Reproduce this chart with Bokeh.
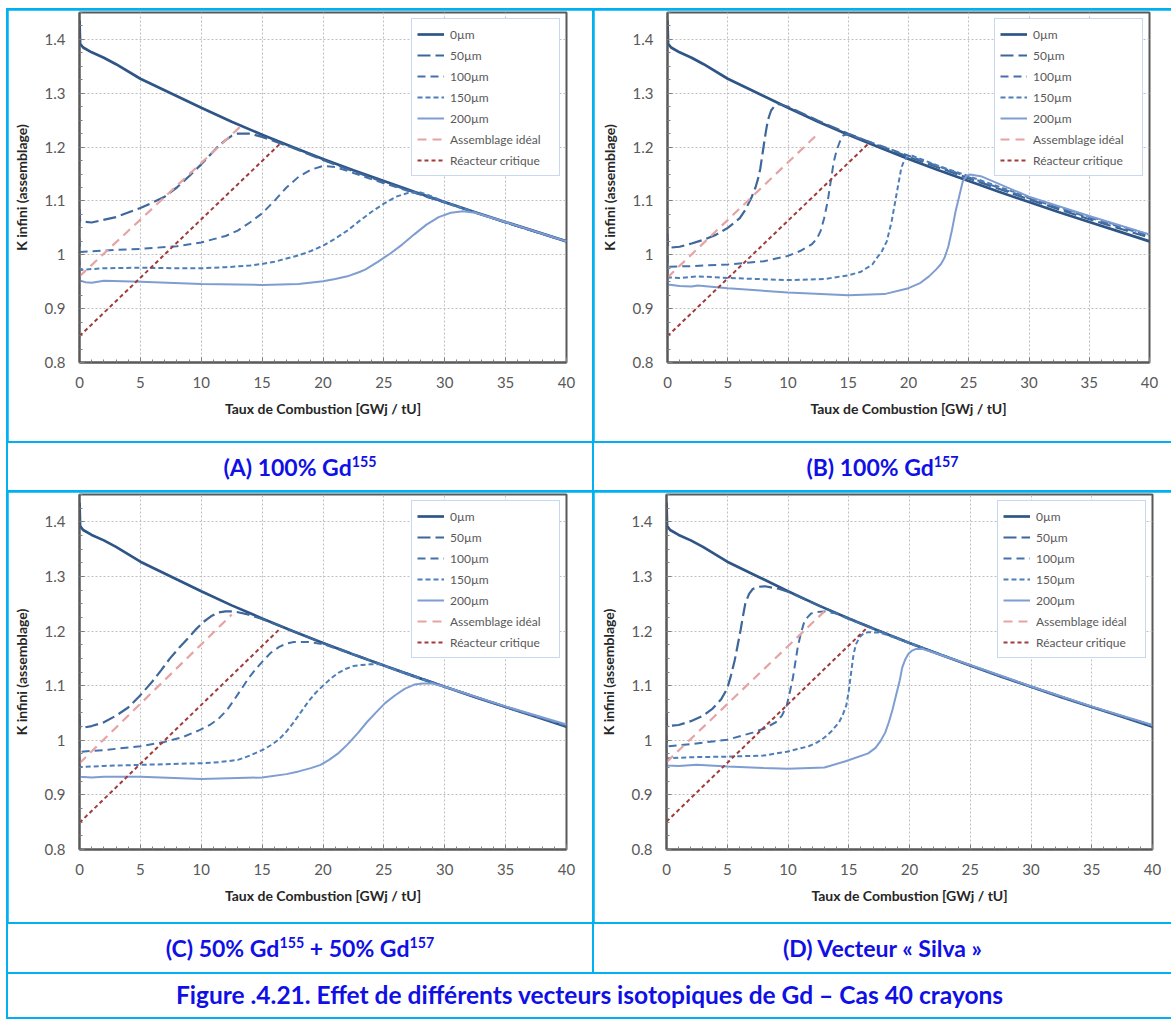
import numpy as np
from bokeh.plotting import figure
from bokeh.models import FixedTicker, Div
from bokeh.layouts import column, row
from bokeh.embed import file_html
from bokeh.resources import INLINE

# ---------------- data ----------------
series_labels = ["0µm", "50µm", "100µm", "150µm", "200µm", "Assemblage idéal", "Réacteur critique"]
x_ticks = [0, 5, 10, 15, 20, 25, 30, 35, 40]
y_ticks = [0.8, 0.9, 1.0, 1.1, 1.2, 1.3, 1.4]
y_tick_labels = ["0.8", "0.9", "1", "1.1", "1.2", "1.3", "1.4"]

# 0 µm reference curve (same in every panel)
ref_x = [0, 0.05, 0.3, 1, 2, 3, 5, 7.5, 10, 12.5, 15, 17.5, 20, 22.5, 25, 27.5, 30, 32.5, 35, 37.5, 40]
ref_k = [1.435, 1.392, 1.385, 1.376, 1.366, 1.354, 1.327, 1.300, 1.273, 1.247, 1.223, 1.200, 1.178, 1.157,
         1.137, 1.117, 1.098, 1.079, 1.061, 1.043, 1.025]

# (A) 100% Gd155
A_x_50 = [0, 0.05, 1, 3, 5, 6, 7, 8, 9, 10, 11, 11.5, 12, 12.5, 13, 14, 15, 17.5, 20, 22.5, 25, 27.5, 30, 35, 40]
A_k_50 = [1.085, 1.062, 1.06, 1.07, 1.087, 1.097, 1.108, 1.125, 1.146, 1.168, 1.192, 1.204, 1.213, 1.221,
          1.225, 1.225, 1.219, 1.199, 1.176, 1.155, 1.135, 1.116, 1.097, 1.06, 1.025]
A_x_100 = [0, 0.05, 2, 5, 8, 10, 12, 13, 14, 15, 16, 17, 18, 19, 20, 21, 22, 23, 25, 27.5, 30, 35, 40]
A_k_100 = [1.03, 1.005, 1.008, 1.011, 1.016, 1.023, 1.035, 1.045, 1.06, 1.077, 1.1, 1.125, 1.145, 1.158,
           1.165, 1.163, 1.156, 1.148, 1.133, 1.115, 1.097, 1.06, 1.025]
A_x_150 = [0, 0.05, 2, 5, 8, 10, 12, 14, 15, 16, 17, 18, 19, 20, 21, 22, 23, 24, 25, 26, 27, 28, 29, 30, 35, 40]
A_k_150 = [0.99, 0.972, 0.975, 0.976, 0.975, 0.975, 0.977, 0.98, 0.983, 0.987, 0.993, 0.999, 1.007, 1.017,
           1.03, 1.045, 1.063, 1.08, 1.095, 1.108, 1.115, 1.116, 1.108, 1.098, 1.06, 1.025]
A_x_200 = [0, 0.05, 0.5, 1, 2, 5, 10, 15, 18, 20, 21, 22, 23, 23.5, 24.5, 25.5, 26.5, 27.5, 28.5, 29.5, 30.5,
           31.5, 32.5, 33.5, 35, 40]
A_k_200 = [0.975, 0.952, 0.949, 0.948, 0.952, 0.95, 0.946, 0.944, 0.946, 0.951, 0.955, 0.96, 0.968, 0.973,
           0.987, 1.002, 1.019, 1.038, 1.056, 1.07, 1.078, 1.081, 1.078, 1.071, 1.061, 1.025]
A_x_ideal = [0, 13.2]
A_k_ideal = [0.96, 1.238]
A_x_crit = [0, 16.6]
A_k_crit = [0.849, 1.209]

# (B) 100% Gd157
B_x_50 = [0, 0.05, 1, 2, 3, 4, 5, 6, 6.5, 7, 7.3, 7.5, 7.7, 7.9, 8.1, 8.25, 8.4, 8.6, 8.9, 9.2, 10, 12.5, 15,
          17.5, 20, 25, 30, 35, 40]
B_k_50 = [1.04, 1.013, 1.015, 1.021, 1.028, 1.037, 1.05, 1.068, 1.085, 1.108, 1.125, 1.14, 1.16, 1.19, 1.22,
          1.24, 1.255, 1.268, 1.277, 1.28, 1.275, 1.249, 1.225, 1.203, 1.182, 1.142, 1.103, 1.066, 1.032]
B_x_100 = [0, 0.05, 2, 5, 8, 10, 11, 12, 12.4, 12.7, 13, 13.3, 13.55, 13.8, 14.05, 14.3, 14.6, 15, 17.5, 20, 25,
           30, 35, 40]
B_k_100 = [1.0, 0.978, 0.979, 0.982, 0.988, 0.998, 1.007, 1.02, 1.03, 1.044, 1.068, 1.1, 1.137, 1.173, 1.195,
           1.21, 1.222, 1.224, 1.204, 1.184, 1.144, 1.105, 1.069, 1.035]
B_x_150 = [0, 0.05, 1, 2.5, 5, 10, 13, 15, 16, 17, 17.4, 17.8, 18.2, 18.6, 18.85, 19.1, 19.4, 19.6, 19.8, 20.3,
           22.5, 25, 30, 35, 40]
B_k_150 = [0.975, 0.958, 0.957, 0.96, 0.957, 0.953, 0.955, 0.962, 0.968, 0.982, 0.995, 1.007, 1.025, 1.062,
           1.093, 1.124, 1.161, 1.173, 1.18, 1.184, 1.165, 1.146, 1.107, 1.071, 1.037]
B_x_200 = [0, 0.05, 1, 2, 2.5, 5, 10, 15, 18, 20, 21, 21.7, 22.3, 22.7, 23.0, 23.3, 23.6, 23.9, 24.2, 24.5,
           24.8, 25.1, 26, 30, 35, 40]
B_k_200 = [0.96, 0.945, 0.942, 0.941, 0.943, 0.938, 0.93, 0.925, 0.927, 0.938, 0.948, 0.96, 0.973, 0.983,
           0.995, 1.015, 1.045, 1.08, 1.108, 1.136, 1.146, 1.149, 1.146, 1.108, 1.072, 1.038]
B_x_ideal = [0, 12.5]
B_k_ideal = [0.958, 1.225]
B_x_crit = [0, 16.7]
B_k_crit = [0.849, 1.207]

# (C) 50% Gd155 + 50% Gd157
C_x_50 = [0, 0.05, 1, 2, 3, 4, 4.9, 6, 6.7, 7.4, 8.2, 9, 9.6, 10.2, 10.8, 11.4, 12, 12.7, 13.3, 13.9, 15,
          17.5, 20, 25, 30, 35, 40]
C_k_50 = [1.045, 1.022, 1.026, 1.033, 1.045, 1.06, 1.08, 1.108, 1.128, 1.149, 1.17, 1.189, 1.204, 1.217,
          1.227, 1.234, 1.236, 1.236, 1.233, 1.23, 1.222, 1.2, 1.178, 1.137, 1.098, 1.061, 1.027]
C_x_100 = [0, 0.05, 2, 5, 7, 8.5, 9.9, 10.7, 11.4, 12.1, 12.7, 13.3, 13.9, 14.5, 15.1, 15.7, 16.4, 17, 17.6,
           18.8, 20, 22.5, 25, 30, 35, 40]
C_k_100 = [1.0, 0.979, 0.982, 0.989, 0.997, 1.006, 1.019, 1.028, 1.039, 1.055, 1.074, 1.094, 1.114, 1.131,
           1.146, 1.16, 1.171, 1.177, 1.18, 1.18, 1.176, 1.157, 1.137, 1.098, 1.061, 1.027]
C_x_150 = [0, 0.05, 2, 5, 10, 11.5, 13, 14, 15.1, 15.8, 16.4, 17, 17.6, 18.2, 18.8, 19.4, 20.1, 20.7, 21.3,
           21.9, 22.5, 23.2, 23.8, 24.7, 26, 30, 35, 40]
C_k_150 = [0.97, 0.951, 0.953, 0.955, 0.958, 0.96, 0.964, 0.972, 0.983, 0.992, 1.002, 1.016, 1.033, 1.052,
           1.071, 1.087, 1.102, 1.114, 1.124, 1.131, 1.136, 1.138, 1.139, 1.139, 1.128, 1.098, 1.061, 1.027]
C_x_200 = [0, 0.05, 1, 2, 5, 10, 15, 17, 18, 19, 19.8, 20.5, 21.3, 22, 22.9, 23.6, 24.4, 25.1, 25.9, 26.7,
           27.5, 28.2, 29, 30, 35, 40]
C_k_200 = [0.95, 0.933, 0.932, 0.933, 0.933, 0.929, 0.932, 0.938, 0.943, 0.949, 0.955, 0.964, 0.977, 0.992,
           1.014, 1.033, 1.052, 1.068, 1.082, 1.094, 1.102, 1.104, 1.104, 1.098, 1.062, 1.029]
C_x_ideal = [0, 12.5]
C_k_ideal = [0.958, 1.23]
C_x_crit = [0, 16.5]
C_k_crit = [0.849, 1.205]

# (D) Vecteur « Silva »
D_x_50 = [0, 0.05, 1, 2, 3, 3.8, 4.5, 5, 5.3, 5.6, 5.85, 6.1, 6.3, 6.5, 6.8, 7.1, 7.6, 8.1, 9.3, 10, 12.5, 15,
          20, 25, 30, 35, 40]
D_k_50 = [1.05, 1.026, 1.028, 1.035, 1.045, 1.058, 1.075, 1.095, 1.118, 1.145, 1.173, 1.202, 1.228, 1.252,
          1.268, 1.277, 1.281, 1.282, 1.277, 1.272, 1.247, 1.223, 1.178, 1.137, 1.098, 1.061, 1.027]
D_x_100 = [0, 0.05, 2, 5, 7.1, 8, 9, 9.5, 9.9, 10.15, 10.4, 10.6, 10.8, 11.05, 11.3, 11.6, 11.9, 12.4, 13, 14,
           15, 17.5, 20, 25, 30, 35, 40]
D_k_100 = [1.01, 0.989, 0.993, 1.001, 1.014, 1.021, 1.033, 1.045, 1.064, 1.088, 1.114, 1.142, 1.17, 1.195,
           1.214, 1.225, 1.232, 1.235, 1.236, 1.232, 1.222, 1.2, 1.178, 1.137, 1.098, 1.061, 1.027]
D_x_150 = [0, 0.05, 2, 5, 8, 9.9, 11.7, 12.4, 13, 13.6, 14.2, 14.5, 14.8, 15.0, 15.1, 15.25, 15.4, 15.6, 15.9,
           16.2, 16.6, 17.6, 20, 25, 30, 35, 40]
D_k_150 = [0.985, 0.967, 0.969, 0.97, 0.972, 0.979, 0.989, 0.996, 1.005, 1.017, 1.033, 1.046, 1.064, 1.09,
           1.108, 1.133, 1.158, 1.176, 1.189, 1.195, 1.198, 1.197, 1.178, 1.137, 1.098, 1.061, 1.027]
D_x_200 = [0, 0.05, 1, 2.5, 5, 8, 10, 13, 14.8, 16.6, 17.2, 17.6, 18, 18.3, 18.6, 18.9, 19.2, 19.4, 19.65,
           19.9, 20.2, 20.5, 21.1, 25, 30, 35, 40]
D_k_200 = [0.975, 0.954, 0.953, 0.955, 0.952, 0.949, 0.948, 0.95, 0.962, 0.976, 0.986, 0.998, 1.014, 1.033,
           1.056, 1.083, 1.11, 1.133, 1.148, 1.158, 1.164, 1.167, 1.167, 1.138, 1.099, 1.062, 1.028]
D_x_ideal = [0, 13.0]
D_k_ideal = [0.96, 1.236]
D_x_crit = [0, 16.6]
D_k_crit = [0.851, 1.208]

SUP = '<sup style="font-size:0.62em">'
captions = [f"(A) 100% Gd{SUP}155</sup>", f"(B) 100% Gd{SUP}157</sup>",
            f"(C) 50% Gd{SUP}155</sup> + 50% Gd{SUP}157</sup>", "(D) Vecteur « Silva »"]
figure_caption = "Figure .4.21. Effet de différents vecteurs isotopiques de Gd – Cas 40 crayons"
x_title = "Taux de Combustion [GWj / tU]"
y_title = "K infini (assemblage)"

# ---------------- styles ----------------
STYLES = {
    "0µm": dict(color="#2F5587", dash="solid", width=2.7),
    "50µm": dict(color="#3D6699", dash="13 5", width=2.2),
    "100µm": dict(color="#4471A9", dash="8 5", width=2.0),
    "150µm": dict(color="#4E7EB9", dash="5 3", width=2.0),
    "200µm": dict(color="#7F9DD0", dash="solid", width=2.0),
    "Assemblage idéal": dict(color="#E6A3A3", dash="9 6", width=2.2),
    "Réacteur critique": dict(color="#A13A3A", dash="4 3", width=2.0),
}
FONT = "Lato"
CYAN = "#00B0F0"
BLUE = "#1010E6"


def make_panel(data, width, height, mb_left, mb_right, mb_top, mb_bottom):
    p = figure(width=width, height=height, x_range=(0, 40), y_range=(0.8, 1.45),
               output_backend="svg", toolbar_location=None,
               min_border_left=mb_left, min_border_right=mb_right,
               min_border_top=mb_top, min_border_bottom=mb_bottom,
               background_fill_color="white", border_fill_color="white",
               outline_line_color="#595959", outline_line_width=2)
    for label, (xs, ks) in zip(series_labels, data):
        st = STYLES[label]
        p.line(xs, ks, line_color=st["color"], line_dash=st["dash"], line_width=st["width"],
               legend_label=label)
    p.xaxis.ticker = FixedTicker(ticks=x_ticks, minor_ticks=list(np.arange(0, 41, 1)))
    p.yaxis.ticker = FixedTicker(ticks=y_ticks, minor_ticks=list(np.round(np.arange(0.8, 1.451, 0.025), 3)))
    p.yaxis.major_label_overrides = {t: l for t, l in zip(y_ticks, y_tick_labels)}
    for ax in (p.xaxis[0], p.yaxis[0]):
        ax.axis_line_color = "#595959"
        ax.axis_line_width = 2
        ax.major_tick_in = 5
        ax.major_tick_out = 0
        ax.minor_tick_in = 3
        ax.minor_tick_out = 0
        ax.major_tick_line_color = "#7F7F7F"
        ax.minor_tick_line_color = "#7F7F7F"
        ax.major_label_text_font = FONT
        ax.major_label_text_font_size = "15px"
        ax.major_label_text_color = "#595959"
        ax.axis_label_text_font = FONT
        ax.axis_label_text_font_size = "14px"
        ax.axis_label_text_font_style = "bold"
        ax.axis_label_text_color = "#262626"
    p.xaxis.axis_label = x_title
    p.yaxis.axis_label = y_title
    p.xaxis.major_label_standoff = 14
    p.xaxis.axis_label_standoff = 9
    p.yaxis.major_label_standoff = 14
    p.yaxis.axis_label_standoff = 12
    for g in (p.xgrid[0], p.ygrid[0]):
        g.grid_line_color = "#BFBFBF"
        g.grid_line_dash = "2 2"
        g.grid_line_width = 1
    lg = p.legend[0]
    lg.location = "top_right"
    lg.margin = 6
    lg.padding = 5
    lg.spacing = 1
    lg.glyph_width = 27
    lg.glyph_height = 20
    lg.label_height = 20
    lg.label_width = 104
    lg.label_standoff = 6
    lg.label_text_font = FONT
    lg.label_text_font_size = "12px"
    lg.label_text_color = "#595959"
    lg.border_line_color = "#8EB4E3"
    lg.border_line_width = 1.5
    lg.background_fill_color = "white"
    lg.background_fill_alpha = 1
    return p


def caption_div(html, width, height, size):
    inner = (f'<div style="width:{width}px;height:{height}px;display:flex;align-items:center;'
             f'justify-content:center;background:white;font-family:{FONT};font-weight:bold;'
             f'font-size:{size}px;color:{BLUE};line-height:1;">'
             f'<span>{html}</span></div>')
    return Div(text=inner, width=width, height=height, margin=0,
               styles={"background-color": "white"})


dA = [(ref_x, ref_k), (A_x_50, A_k_50), (A_x_100, A_k_100), (A_x_150, A_k_150), (A_x_200, A_k_200),
      (A_x_ideal, A_k_ideal), (A_x_crit, A_k_crit)]
dB = [(ref_x, ref_k), (B_x_50, B_k_50), (B_x_100, B_k_100), (B_x_150, B_k_150), (B_x_200, B_k_200),
      (B_x_ideal, B_k_ideal), (B_x_crit, B_k_crit)]
dC = [(ref_x, ref_k), (C_x_50, C_k_50), (C_x_100, C_k_100), (C_x_150, C_k_150), (C_x_200, C_k_200),
      (C_x_ideal, C_k_ideal), (C_x_crit, C_k_crit)]
dD = [(ref_x, ref_k), (D_x_50, D_k_50), (D_x_100, D_k_100), (D_x_150, D_k_150), (D_x_200, D_k_200),
      (D_x_ideal, D_k_ideal), (D_x_crit, D_k_crit)]

WL, WR = 584, 577
pA = make_panel(dA, WL, 431, 71, 26, 2, 75)
pB = make_panel(dB, WR, 431, 73, 22, 2, 79)
pC = make_panel(dC, WL, 430, 71, 26, 2, 73)
pD = make_panel(dD, WR, 430, 72, 19, 2, 73)

capA = caption_div(captions[0], WL, 47, 23)
capB = caption_div(captions[1], WR, 47, 23)
capC = caption_div(captions[2], WL, 48, 23)
capD = caption_div(captions[3], WR, 48, 23)
capF = caption_div(figure_caption, WL + WR + 2, 43, 24.5)

layout = column(
    row(pA, pB, spacing=2),
    row(capA, capB, spacing=2),
    row(pC, pD, spacing=2),
    row(capC, capD, spacing=2),
    capF,
    spacing=2,
    margin=(8, 0, 0, 6),
    styles={"background-color": CYAN, "padding": "2px 0px 2px 2px"},
)

with open("out.html", "w", encoding="utf-8") as f:
    f.write(file_html(layout, INLINE))
